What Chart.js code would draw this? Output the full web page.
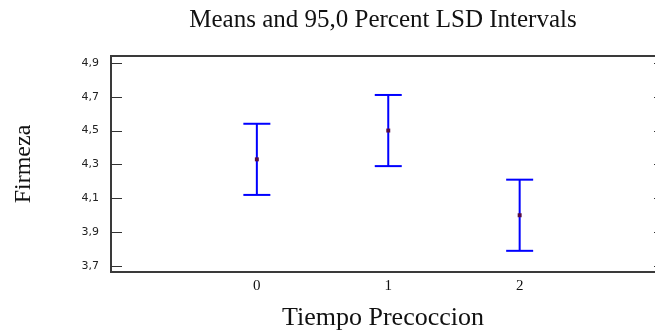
<!DOCTYPE html>
<html>
<head>
<meta charset="utf-8">
<title>Means and 95,0 Percent LSD Intervals</title>
<script src="https://cdn.jsdelivr.net/npm/chart.js@4/dist/chart.umd.min.js"></script>
<style>
  html, body { margin: 0; padding: 0; background: #ffffff; overflow: hidden; }
  canvas { display: block; }
</style>
</head>
<body>
<canvas id="c" width="655" height="334"></canvas>
<script>
// Levels of Tiempo Precoccion and their Firmeza means with LSD interval limits
const categories = ['0', '1', '2'];
const xPositions = [0, 1, 2];
const means = [4.33, 4.50, 4.00];
const lower = [4.12, 4.29, 3.79];
const upper = [4.54, 4.71, 4.21];

// Vertical axis ticks
const yTicks = [3.7, 3.9, 4.1, 4.3, 4.5, 4.7, 4.9];
const yTickLabels = ['3,7', '3,9', '4,1', '4,3', '4,5', '4,7', '4,9'];

const SERIF = "'Liberation Serif', 'Times New Roman', serif";
const SANS = "'DejaVu Sans', Tahoma, sans-serif";
const BLUE = '#0000ff';

// Stems: one vertical segment per level, separated by gaps
const stemData = [];
xPositions.forEach((x, i) => {
  stemData.push({ x: x, y: lower[i] }, { x: x, y: upper[i] }, { x: x, y: null });
});
// Caps at both interval ends
const capData = [];
xPositions.forEach((x, i) => {
  capData.push({ x: x, y: lower[i] }, { x: x, y: upper[i] });
});
const meanData = xPositions.map((x, i) => ({ x: x, y: means[i] }));

// Plot frame with short inward ticks on both vertical sides;
// the right side of the box sits just beyond the canvas edge
const FRAME_OVERHANG = 10;
const plotFrame = {
  id: 'plotFrame',
  beforeDatasetsDraw(chart) {
    const { ctx, chartArea: a, scales } = chart;
    const right = a.right + FRAME_OVERHANG;
    ctx.save();
    ctx.strokeStyle = '#3a3a3a';
    ctx.lineWidth = 2;
    ctx.strokeRect(a.left, a.top, right - a.left, a.bottom - a.top);
    ctx.lineWidth = 1;
    ctx.strokeStyle = '#333333';
    ctx.beginPath();
    scales.y.ticks.forEach(t => {
      const py = Math.round(scales.y.getPixelForValue(t.value)) + 0.5;
      ctx.moveTo(a.left, py); ctx.lineTo(a.left + 11, py);
      ctx.moveTo(right - 11, py); ctx.lineTo(right, py);
    });
    ctx.stroke();
    ctx.restore();
  }
};

new Chart(document.getElementById('c'), {
  type: 'scatter',
  data: {
    datasets: [
      {
        label: 'Mean',
        data: meanData,
        pointStyle: 'rect',
        pointRadius: 2.8,
        backgroundColor: '#560c44',
        borderWidth: 0
      },
      {
        label: 'Interval',
        data: stemData,
        showLine: true,
        spanGaps: false,
        borderColor: BLUE,
        borderWidth: 2,
        pointRadius: 0
      },
      {
        label: 'Caps',
        data: capData,
        pointStyle: 'line',
        pointRadius: 13.5,
        borderColor: BLUE,
        borderWidth: 2
      }
    ]
  },
  options: {
    responsive: false,
    animation: false,
    layout: { padding: 0, autoPadding: false },
    plugins: {
      legend: { display: false },
      tooltip: { enabled: false },
      title: { display: false }
    },
    scales: {
      x: {
        type: 'linear',
        position: 'bottom',
        min: -1.11,
        max: 3.03,
        grid: { display: false, drawTicks: false },
        border: { display: false },
        afterBuildTicks: s => { s.ticks = xPositions.map(v => ({ value: v })); },
        afterFit: s => { s.height = 62; s.paddingLeft = 0; s.paddingRight = 0; },
        ticks: {
          autoSkip: false,
          maxRotation: 0,
          padding: 5,
          color: '#111111',
          font: { family: SERIF, size: 15 },
          callback: (v, i) => categories[i]
        },
        title: {
          display: true,
          text: 'Tiempo Precoccion',
          color: '#111111',
          font: { family: SERIF, size: 26 },
          padding: { top: 0, bottom: 0 }
        }
      },
      top: {
        type: 'linear',
        position: 'top',
        min: -1.11,
        max: 3.03,
        grid: { display: false, drawTicks: false },
        border: { display: false },
        ticks: { display: false },
        afterFit: s => { s.height = 56; s.paddingLeft = 0; s.paddingRight = 0; },
        title: {
          display: true,
          text: 'Means and 95,0 Percent LSD Intervals',
          color: '#111111',
          font: { family: SERIF, size: 25 },
          padding: { top: 5.6, bottom: 0 }
        }
      },
      y: {
        type: 'linear',
        position: 'left',
        min: 3.665,
        max: 4.94,
        grid: { display: false, drawTicks: false },
        border: { display: false },
        afterBuildTicks: s => { s.ticks = yTicks.map(v => ({ value: v })); },
        afterFit: s => { s.width = 111; },
        ticks: {
          autoSkip: false,
          padding: 12,
          color: '#222222',
          font: { family: SANS, size: 11 },
          callback: (v, i) => yTickLabels[i]
        },
        title: {
          display: true,
          text: 'Firmeza',
          color: '#111111',
          font: { family: SERIF, size: 24 },
          padding: { top: 9, bottom: 0 }
        }
      }
    }
  },
  plugins: [plotFrame]
});
</script>
</body>
</html>
